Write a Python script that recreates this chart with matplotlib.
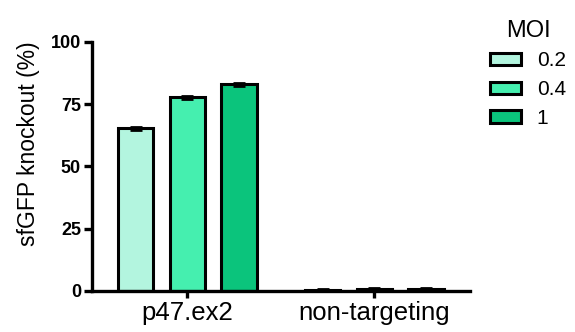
import matplotlib
matplotlib.use("Agg")
import matplotlib.pyplot as plt
import numpy as np

plt.rcParams['font.family'] = ['Liberation Sans', 'DejaVu Sans']

groups = ["p47.ex2", "non-targeting"]
moi_labels = ["0.2", "0.4", "1"]
values = {
    "0.2": [65.3, 0.6],
    "0.4": [77.8, 1.0],
    "1": [83.0, 1.0],
}
errors = {
    "0.2": [0.6, 0.2],
    "0.4": [0.6, 0.2],
    "1": [0.5, 0.2],
}
colors = ["#b3f5df", "#45efaf", "#0bc47c"]
yticks = [0, 25, 50, 75, 100]

fig = plt.figure(figsize=(5.75, 3.32), dpi=100)
ax = fig.add_axes([0.16, 0.1235, 0.657, 0.75])

x = np.arange(len(groups))
width = 0.19
offsets = [-0.277, 0, 0.277]
for lab, off, col in zip(moi_labels, offsets, colors):
    ax.bar(x + off, values[lab], width, yerr=errors[lab], color=col,
           edgecolor="black", linewidth=2.2, label=lab,
           error_kw=dict(ecolor="black", elinewidth=2, capsize=4, capthick=2))

ax.set_xlim(-0.51, 1.51)
ax.set_ylim(0, 100)
ax.set_yticks(yticks)
ax.set_yticklabels([str(v) for v in yticks], fontweight="bold", fontsize=13)
ax.set_xticks(x)
ax.set_xticklabels(groups, fontsize=18.5)
ax.set_ylabel("sfGFP knockout (%)", fontsize=16.5)
ax.yaxis.set_label_coords(-0.137, 0.59)
for s in ["top", "right"]:
    ax.spines[s].set_visible(False)
for s in ["left", "bottom"]:
    ax.spines[s].set_linewidth(2.4)
ax.tick_params(axis="y", width=2.4, length=6, pad=2)
ax.tick_params(axis="x", width=2.4, length=5, pad=2)

leg = fig.legend(title="MOI", loc="upper left", bbox_to_anchor=(0.825, 0.988),
                 frameon=False, fontsize=15, title_fontsize=17,
                 handlelength=1.5, handleheight=0.55, labelspacing=0.47,
                 handletextpad=0.75, borderpad=0.25)
for h in leg.legend_handles:
    h.set_linewidth(2.2)

fig.savefig("out.png", dpi=100)
